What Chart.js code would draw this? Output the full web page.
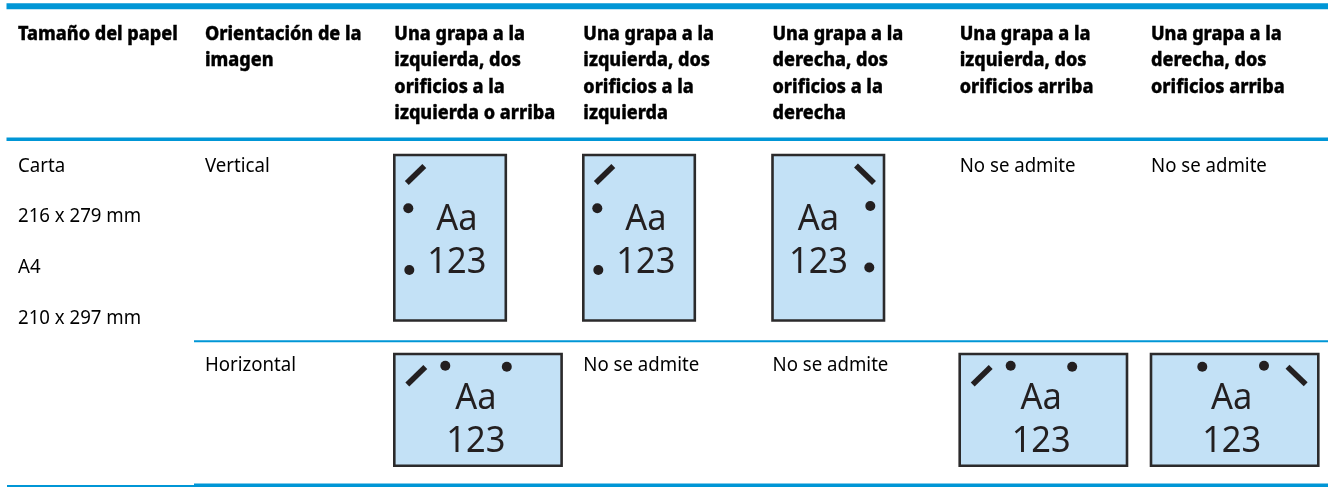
<!DOCTYPE html>
<html>
<head>
<meta charset="utf-8">
<style>
  html, body { margin: 0; padding: 0; background: #fff; overflow: hidden; }
  canvas { display: block; }
</style>
<script src="https://cdn.jsdelivr.net/npm/chart.js@4/dist/chart.umd.min.js"></script>
</head>
<body>
<canvas id="myChart" width="1328" height="487"></canvas>
<script>
// table content
const headerLabels = [
  ['Tamaño del papel'],
  ['Orientación de la', 'imagen'],
  ['Una grapa a la', 'izquierda, dos', 'orificios a la', 'izquierda o arriba'],
  ['Una grapa a la', 'izquierda, dos', 'orificios a la', 'izquierda'],
  ['Una grapa a la', 'derecha, dos', 'orificios a la', 'derecha'],
  ['Una grapa a la', 'izquierda, dos', 'orificios arriba'],
  ['Una grapa a la', 'derecha, dos', 'orificios arriba']
];
const sizeLabels = ['Carta', '216 x 279 mm', 'A4', '210 x 297 mm'];
const orientationLabels = ['Vertical', 'Horizontal'];
const unsupportedLabel = 'No se admite';
const sampleLabels = ['Aa', '123'];
// staple side of the page in each option column, null = not supported
const verticalCells = ['left', 'left', 'right', null, null];
const horizontalCells = ['left', null, null, 'left', 'right'];

// table grid, in the units of the x and y scales
const columnX = [18, 205, 394.3, 583.3, 772.5, 959.7, 1151];
const rowY = [155, 354];
const rowBaseline = [171.7, 370.7];
const sizeBaselines = [171.7, 222, 272.7, 324];
const headerBaselines = [39.8, 66.3, 92.8, 119.3];
const rules = [
  { x0: 6.5, x1: 1328, y: 6.3, width: 6 },
  { x0: 6.5, x1: 1328, y: 139.2, width: 3.6 },
  { x0: 194, x1: 1328, y: 341.2, width: 1.9 },
  { x0: 7, x1: 194, y: 486, width: 2 },
  { x0: 194, x1: 1328, y: 485.2, width: 3.6 }
];
// pictogram parts, relative to the page corner
const pictograms = {
  portrait: {
    w: 111.5, h: 165.5, baselines: [75, 118],
    left: { staple: [[12.5, 28], [30, 11]], holes: [[14, 53.3], [15, 115]], textX: 62.5 },
    right: { staple: [[83.5, 10.5], [101.5, 28]], holes: [[97.8, 51], [96.8, 112.5]], textX: 46 }
  },
  landscape: {
    w: 167.3, h: 111.7, baselines: [55, 98],
    left: { staple: [[13, 30.5], [31, 13]], holes: [[51, 11.8], [112.5, 12.7]], textX: 81.5 },
    right: { staple: [[136.5, 12.7], [154.7, 30.3]], holes: [[51.3, 12.7], [113, 11.8]], textX: 80.7 }
  }
};

const inkColor = '#231f20';
const ruleColor = '#0096d6';
const pageColor = '#c3e1f6';

const datasets = [];
const cellTexts = [];

rules.forEach(r => {
  datasets.push({
    data: [{ x: r.x0, y: r.y }, { x: r.x1, y: r.y }],
    showLine: true, pointRadius: 0, borderColor: ruleColor, borderWidth: r.width
  });
});

function addCell(side, col, row, shape) {
  const x = columnX[col], y = rowY[row];
  const p = pictograms[shape];
  const part = p[side];
  datasets.push({
    order: 2,
    data: [
      { x: x, y: y }, { x: x + p.w, y: y }, { x: x + p.w, y: y + p.h },
      { x: x, y: y + p.h }, { x: x, y: y }
    ],
    showLine: true, pointRadius: 0, fill: 'shape', backgroundColor: pageColor,
    borderColor: '#2b2a2b', borderWidth: 2.6, borderJoinStyle: 'miter', borderCapStyle: 'square'
  });
  datasets.push({
    order: 1,
    data: part.staple.map(s => ({ x: x + s[0], y: y + s[1] })),
    showLine: true, pointRadius: 0, borderColor: inkColor, borderWidth: 5.6, borderCapStyle: 'butt'
  });
  datasets.push({
    order: 1,
    data: part.holes.map(h => ({ x: x + h[0], y: y + h[1] })),
    showLine: false, pointRadius: 5, backgroundColor: inkColor, borderWidth: 0
  });
  sampleLabels.forEach((t, i) => {
    cellTexts.push({ text: t, x: x + part.textX, y: y + p.baselines[i] });
  });
}

[verticalCells, horizontalCells].forEach((cells, row) => {
  cells.forEach((side, i) => {
    if (side) addCell(side, i + 2, row, row === 0 ? 'portrait' : 'landscape');
  });
});

// narrow the installed font a little, the original face is more condensed
function putText(ctx, text, px, py, font, sx, align, heavy) {
  ctx.save();
  ctx.translate(px, py);
  ctx.scale(sx, 1);
  ctx.font = font;
  ctx.textAlign = align;
  ctx.textBaseline = 'alphabetic';
  ctx.fillText(text, 0, 0);
  if (heavy) {
    ctx.strokeStyle = ctx.fillStyle;
    ctx.lineWidth = heavy;
    ctx.strokeText(text, 0, 0);
  }
  ctx.restore();
}

const tableText = {
  id: 'tableText',
  afterDatasetsDraw(chart) {
    const ctx = chart.ctx;
    const sx = chart.scales.x, sy = chart.scales.y;
    const bold = '800 20px "Noto Sans"';
    const body = '19px "Noto Sans"';
    const big = '37px "Noto Sans"';
    ctx.fillStyle = '#000';
    headerLabels.forEach((lines, c) => {
      lines.forEach((t, i) => {
        putText(ctx, t, sx.getPixelForValue(columnX[c]), sy.getPixelForValue(headerBaselines[i]), bold, 0.9, 'left', 0.4);
      });
    });
    sizeLabels.forEach((t, i) => {
      putText(ctx, t, sx.getPixelForValue(columnX[0]), sy.getPixelForValue(sizeBaselines[i]), body, 0.98, 'left');
    });
    orientationLabels.forEach((t, i) => {
      putText(ctx, t, sx.getPixelForValue(columnX[1]), sy.getPixelForValue(rowBaseline[i]), body, 0.98, 'left');
    });
    [verticalCells, horizontalCells].forEach((cells, row) => {
      cells.forEach((side, i) => {
        if (!side) putText(ctx, unsupportedLabel, sx.getPixelForValue(columnX[i + 2]), sy.getPixelForValue(rowBaseline[row]), body, 0.98, 'left');
      });
    });
    ctx.fillStyle = inkColor;
    cellTexts.forEach(c => {
      putText(ctx, c.text, sx.getPixelForValue(c.x), sy.getPixelForValue(c.y), big, 0.93, 'center');
    });
  }
};

new Chart('myChart', {
  type: 'scatter',
  data: { datasets: datasets },
  plugins: [tableText],
  options: {
    responsive: false,
    animation: false,
    layout: { padding: 0, autoPadding: false },
    elements: { line: { tension: 0 } },
    plugins: { legend: { display: false }, tooltip: { enabled: false } },
    scales: {
      x: { type: 'linear', min: 0, max: 1328, display: false },
      y: { type: 'linear', min: 0, max: 487, reverse: true, display: false }
    }
  }
});
</script>
</body>
</html>
